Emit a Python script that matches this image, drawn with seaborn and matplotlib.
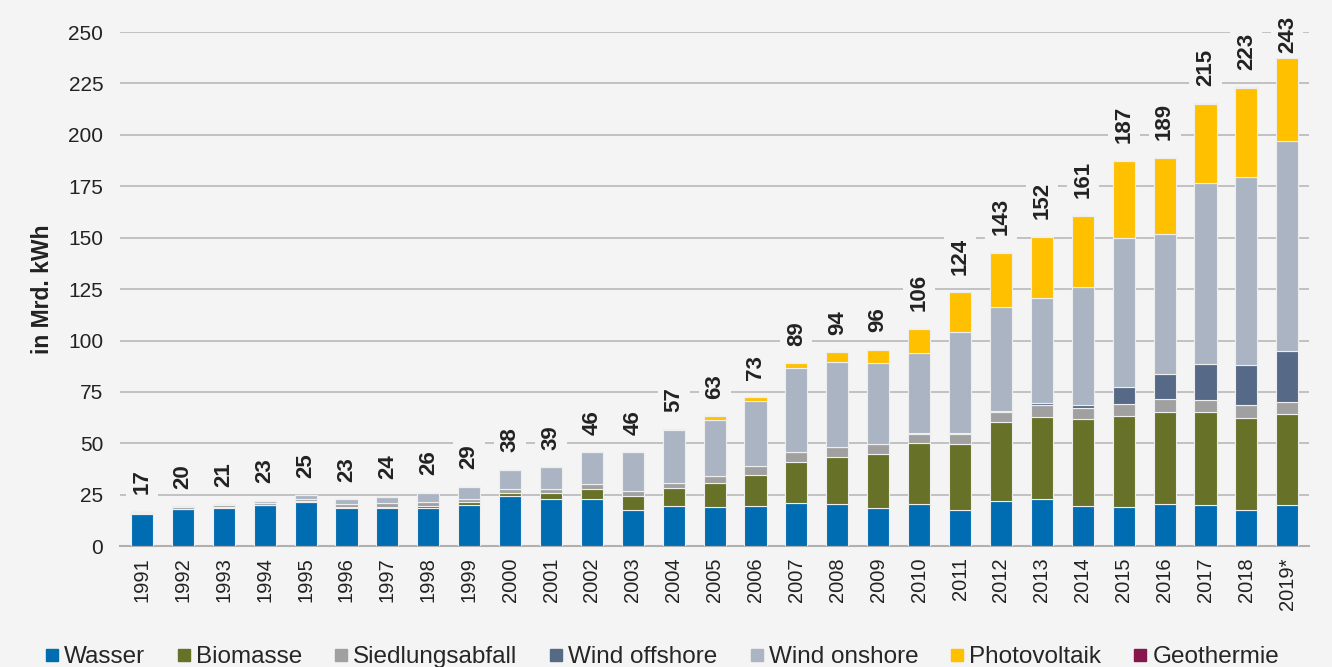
import matplotlib
matplotlib.use("Agg")
import matplotlib.pyplot as plt
from matplotlib.lines import Line2D
import seaborn as sns
import numpy as np
import pandas as pd

years = ["1991", "1992", "1993", "1994", "1995", "1996", "1997", "1998", "1999", "2000",
         "2001", "2002", "2003", "2004", "2005", "2006", "2007", "2008", "2009", "2010",
         "2011", "2012", "2013", "2014", "2015", "2016", "2017", "2018", "2019*"]

wasser = [15.8, 18.0, 18.8, 19.9, 21.6, 18.7, 18.7, 18.7, 20.3, 24.3,
          23.2, 23.2, 17.5, 19.8, 19.2, 19.8, 21.1, 20.4, 18.8, 20.5,
          17.6, 22.2, 22.8, 19.6, 19.1, 20.5, 20.0, 17.6, 20.0]
biomasse = [0.2, 0.2, 0.2, 0.3, 0.3, 0.4, 0.6, 0.8, 1.0, 1.7,
            2.8, 4.5, 6.8, 8.6, 11.4, 14.9, 19.9, 22.9, 26.0, 29.5,
            31.9, 38.3, 40.2, 42.2, 44.3, 44.8, 45.3, 44.6, 44.4]
siedlungsabfall = [0.8, 1.0, 0.9, 1.0, 1.3, 1.3, 1.5, 1.8, 1.9, 1.7,
                   1.7, 2.5, 2.5, 2.4, 3.4, 4.1, 4.9, 5.2, 4.7, 4.7,
                   4.9, 4.6, 5.6, 5.6, 5.7, 6.4, 5.6, 6.4, 5.9]
wind_offshore = [0, 0, 0, 0, 0, 0, 0, 0, 0, 0,
                 0, 0, 0, 0, 0, 0, 0, 0, 0.04, 0.2,
                 0.6, 0.7, 0.9, 1.5, 8.2, 12.0, 17.7, 19.6, 24.5]
wind_onshore = [0.1, 0.3, 0.5, 0.9, 1.6, 2.4, 3.2, 4.8, 5.7, 9.6,
                10.7, 15.4, 18.8, 25.5, 27.6, 31.6, 40.7, 41.3, 39.6, 39.1,
                49.2, 50.4, 51.2, 57.0, 72.6, 68.3, 87.9, 91.2, 102.0]
photovoltaik = [0, 0, 0, 0, 0, 0, 0, 0, 0, 0,
                0, 0.1, 0.2, 0.6, 1.6, 2.1, 2.4, 4.6, 6.4, 11.8,
                19.3, 26.4, 29.7, 34.7, 37.4, 36.6, 38.5, 43.5, 40.8]
geothermie = [0, 0, 0, 0, 0, 0, 0, 0, 0, 0,
              0, 0, 0, 0, 0, 0, 0, 0, 0, 0,
              0, 0, 0.1, 0.1, 0.1, 0.2, 0.3, 0.3, 0.3]
totals = [17, 20, 21, 23, 25, 23, 24, 26, 29, 38, 39, 46, 46, 57, 63, 73, 89, 94, 96,
          106, 124, 143, 152, 161, 187, 189, 215, 223, 243]

series_names = ["Wasser", "Biomasse", "Siedlungsabfall", "Wind offshore",
                "Wind onshore", "Photovoltaik", "Geothermie"]
series_vals = [wasser, biomasse, siedlungsabfall, wind_offshore,
               wind_onshore, photovoltaik, geothermie]
colors = ["#006cb1", "#677128", "#a0a0a0", "#566987", "#abb4c2", "#ffc000", "#86174d"]

bg = "#f4f4f4"
sns.set_theme(style="white")
plt.rcParams["font.family"] = ["Liberation Sans", "DejaVu Sans"]

fig = plt.figure(figsize=(13.32, 6.67), dpi=100, facecolor=bg)
ax = fig.add_axes([0.090, 0.181, 0.893, 0.771], facecolor=bg)

df = pd.DataFrame({"Jahr": years})
cum = np.zeros(len(years))
for name, vals, col in zip(series_names, series_vals, colors):
    v = np.array(vals, dtype=float)
    sns.barplot(x=df["Jahr"], y=v, bottom=cum, color=col, saturation=1, width=0.54,
                edgecolor="#eeeeee", linewidth=0.8, ax=ax, zorder=3)
    cum = cum + v

ax.set_ylim(0, 250)
ax.set_xlim(-0.54, len(years) - 0.46)
ax.set_yticks(np.arange(0, 251, 25))
ax.yaxis.grid(True, color="#b8b8b8", linewidth=1.2, zorder=0)
ax.set_axisbelow(True)
for s in ["top", "right", "left"]:
    ax.spines[s].set_visible(False)
ax.spines["bottom"].set_color("#b0b0b0")
ax.spines["bottom"].set_linewidth(1.5)
ax.tick_params(axis="y", length=0, colors="#222222", labelsize=15, pad=12)
ax.tick_params(axis="x", length=0, colors="#222222", labelsize=14.5, pad=8)
plt.setp(ax.get_xticklabels(), rotation=90)
ax.set_xlabel("")
ax.set_ylabel("in Mrd. kWh", fontsize=16.5, fontweight="bold", color="#222222", labelpad=10)

for i, t in enumerate(totals):
    y = min(cum[i] + 8.5, 240)
    ax.text(i, y, str(t), rotation=90, ha="center", va="bottom", fontsize=16,
            fontweight="bold", color="#222222", zorder=4,
            bbox=dict(facecolor=bg, edgecolor="none", pad=4))

handles = [Line2D([0], [0], marker="s", linestyle="none", markersize=9,
                  markerfacecolor=c, markeredgecolor=c) for c in colors]
fig.legend(handles, series_names, loc="lower left", bbox_to_anchor=(0.015, -0.035),
           ncol=7, frameon=False, fontsize=17.5, handletextpad=0.1, columnspacing=1.2,
           handlelength=0.8)

fig.savefig("out.png", dpi=100, facecolor=bg)
